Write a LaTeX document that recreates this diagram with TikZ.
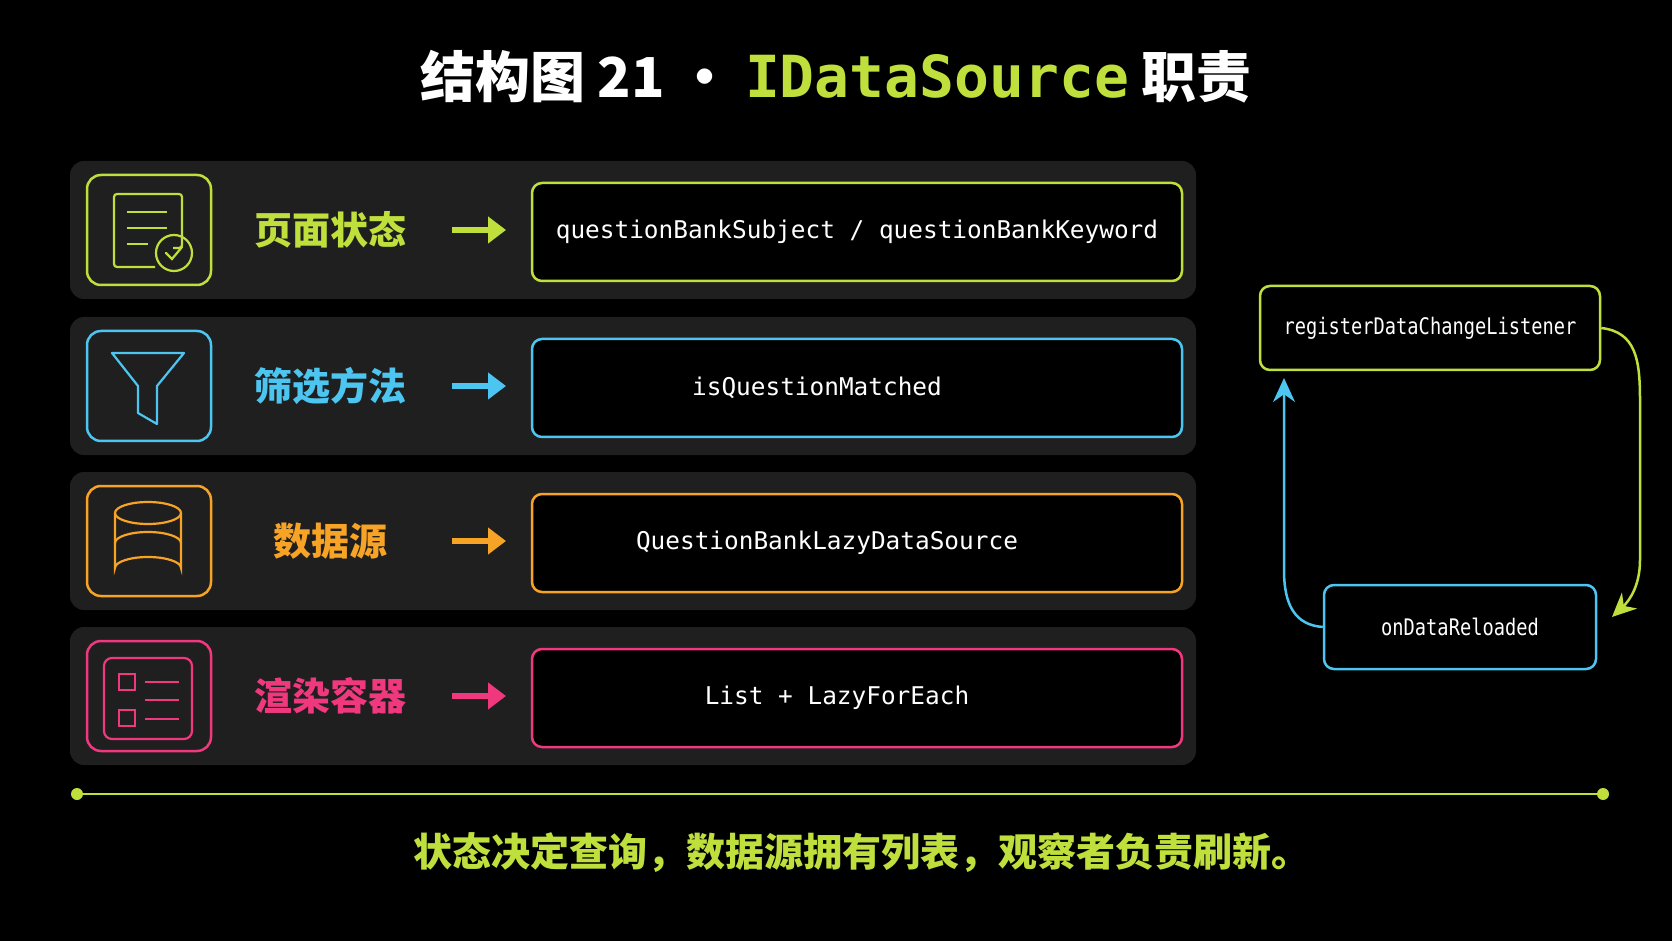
\documentclass[tikz,border=0pt]{standalone}
\usepackage{fontspec}
\usetikzlibrary{arrows.meta,positioning}
\newfontfamily\cjk{Noto Sans CJK SC}
\newfontfamily\codefont{DejaVu Sans Mono}
\newfontfamily\loopfont{DejaVu Sans Mono}[FakeStretch=0.82]
\definecolor{lime}{HTML}{BFE03C}
\definecolor{sky}{HTML}{4CC6F0}
\definecolor{amber}{HTML}{F7A325}
\definecolor{rose}{HTML}{F0387F}
\definecolor{panel}{HTML}{1F1F1F}
\tikzset{
  rowpanel/.style={fill=panel, rounded corners=7pt},
  iconbox/.style={draw=#1, line width=1.25pt, rounded corners=7pt, minimum width=62pt, minimum height=55pt, fill=panel},
  codebox/.style={draw=#1, line width=1.25pt, rounded corners=5pt, fill=black, text=white,
    minimum width=325pt, minimum height=49pt, font=\codefont\fontsize{12.2}{14}\selectfont},
  rowlabel/.style={text=#1, font=\cjk\bfseries\fontsize{19}{22}\selectfont},
  rowarrow/.style={draw=#1, line width=3pt, -{Triangle[length=9pt,width=13pt]}},
  icon/.style={draw=#1, line width=1.1pt},
  loopbox/.style={draw=#1, line width=1.25pt, rounded corners=5pt, fill=black, text=white,
    font=\loopfont\fontsize{11.4}{13}\selectfont}
}
\begin{document}
\begin{tikzpicture}[x=0.5pt,y=0.5pt,yscale=-1]
\fill[black] (0,0) rectangle (1672,941);
\useasboundingbox (0,0) rectangle (1672,941);

% title
\node (title) at (836,77) {\cjk\bfseries\fontsize{27.5}{32}\selectfont\color{white}结构图 21 · {\codefont\bfseries\fontsize{29}{32}\selectfont\color{lime}IDataSource} 职责};

% rows
\foreach \y in {230,386,541,696}
  \fill[rowpanel] (70,\y-69) rectangle (1196,\y+69);

\node[iconbox=lime] (ic1) at (149,230) {};
\node[iconbox=sky] (ic2) at (149,386) {};
\node[iconbox=amber] (ic3) at (149,541) {};
\node[iconbox=rose] (ic4) at (149,696) {};

\node[rowlabel=lime] (lb1) at (330,230) {页面状态};
\node[rowlabel=sky] (lb2) at (330,386) {筛选方法};
\node[rowlabel=amber] (lb3) at (330,541) {数据源};
\node[rowlabel=rose] (lb4) at (330,696) {渲染容器};

\node[codebox=lime] (cd1) at (857,232) {questionBankSubject / questionBankKeyword};
\node[codebox=sky] (cd2) at (857,388) {\hspace*{-40pt}isQuestionMatched};
\node[codebox=amber] (cd3) at (857,543) {\hspace*{-30pt}QuestionBankLazyDataSource};
\node[codebox=rose] (cd4) at (857,698) {\hspace*{-20pt}List + LazyForEach};

\foreach \y/\c in {230/lime,386/sky,541/amber,696/rose}
  \draw[rowarrow=\c] (452,\y) -- (506,\y);

% icon: page with check
\begin{scope}[shift={(ic1.center)}]
  \draw[icon=lime, rounded corners=1.5pt] (24,18) -- (33,18) -- (33,-36) -- (-35,-36) -- (-35,37) -- (6,37);
  \draw[icon=lime] (-22,-18) -- (18,-18) (-22,-2) -- (18,-2) (-22,14) -- (-1,14);
  \draw[icon=lime] (25,23) circle (18);
  \draw[icon=lime, line cap=round] (17,23) -- (23,29) -- (33,17);
\end{scope}
% icon: funnel
\begin{scope}[shift={(ic2.center)}]
  \draw[icon=sky, line join=round] (-37,-33) -- (35,-33) -- (8,0) -- (8,38) -- (-11,27) -- (-11,0) -- cycle;
\end{scope}
% icon: database
\begin{scope}[shift={(ic3.center)}]
  \draw[icon=amber] (-1,-28) ellipse (33 and 11);
  \draw[icon=amber] (-34,-28) -- (-34,27) arc[start angle=180,end angle=360,x radius=33,y radius=11] -- (32,-28);
  \draw[icon=amber] (-34,2) arc[start angle=180,end angle=360,x radius=33,y radius=11];
\end{scope}
% icon: list
\begin{scope}[shift={(ic4.center)}]
  \draw[icon=rose, rounded corners=4pt] (-45,-38) rectangle (43,43);
  \draw[icon=rose] (-30,-22) rectangle (-14,-6) (-30,14) rectangle (-14,30);
  \draw[icon=rose] (-4,-14) -- (30,-14) (-4,4) -- (30,4) (-4,23) -- (30,23);
\end{scope}

% observer loop
\node[loopbox=lime, minimum width=170pt, minimum height=42pt] (reg) at (1430,328) {registerDataChangeListener};
\node[loopbox=sky, minimum width=136pt, minimum height=42pt] (rel) at (1460,627) {onDataReloaded};
\coordinate (regin) at (1284,378);
\coordinate (relin) at (1612,617);
\draw[lime, line width=1.25pt, -{Stealth[length=12pt,width=11pt]}] (reg.east) .. controls (1636,332) and (1640,360) .. (1640,400) -- (1640,560) .. controls (1640,585) and (1630,600) .. (relin);
\draw[sky, line width=1.25pt, -{Stealth[length=12pt,width=11pt]}] (rel.west) .. controls (1295,625) and (1284,605) .. (1284,570) -- (regin);

% footer
\coordinate (fl) at (77,794);
\coordinate (fr) at (1603,794);
\draw[lime, line width=0.6pt] (fl) -- (fr);
\fill[lime] (fl) circle (6) (fr) circle (6);
\node[text=lime, font=\cjk\bfseries\fontsize{19.5}{24}\selectfont] (note) at (862,853) {状态决定查询，数据源拥有列表，观察者负责刷新。};
\end{tikzpicture}
\end{document}
